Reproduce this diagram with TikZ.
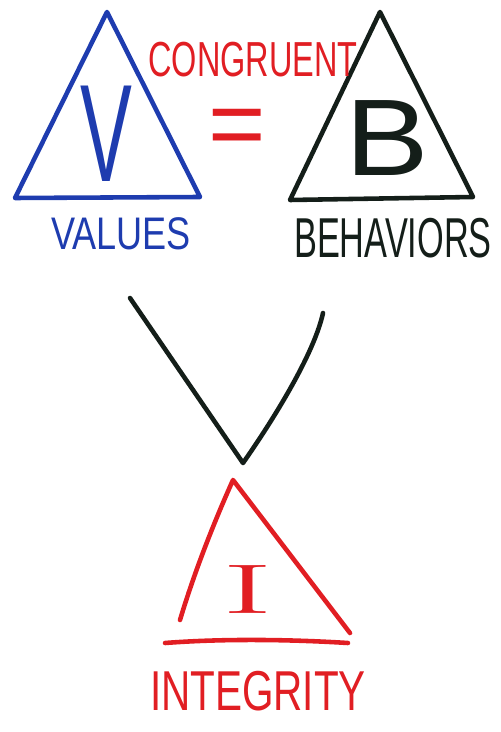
\documentclass[tikz,border=0pt]{standalone}
\usepackage{fontspec}
\newfontfamily\marker{Liberation Sans}
\definecolor{azul}{RGB}{30,60,175}
\definecolor{rojo}{RGB}{225,30,35}
\definecolor{negro}{RGB}{20,30,25}

\begin{document}
\begin{tikzpicture}[x=0.02cm, y=-0.02cm,
    trazo/.style={line width=2.6pt, line cap=round, line join=round},
    letra/.style={inner sep=0pt, anchor=base, transform shape}]

    \useasboundingbox (0,0) rectangle (500,732);

    % Triangulo de valores
    \draw[trazo, azul] (15,198) -- (107,12) -- (200,197) -- cycle;
    \node[letra, azul, xscale=0.56, font=\marker\fontsize{79}{79}\selectfont] (V) at (106,182) {V};
    \node[letra, azul, xscale=0.79, font=\marker\fontsize{26}{26}\selectfont] (values) at (121,250) {VALUES};

    % Triangulo de comportamientos
    \draw[trazo, negro] (290,200) -- (380,12) -- (473,197) -- cycle;
    \node[letra, negro, xscale=1.15, font=\marker\fontsize{62}{62}\selectfont] (B) at (387,176) {B};
    \node[letra, negro, xscale=0.61, font=\marker\fontsize{32}{32}\selectfont] (behaviors) at (393,258) {BEHAVIORS};

    % Congruencia
    \node[letra, rojo, xscale=0.66, font=\marker\fontsize{28}{28}\selectfont] (congruent) at (253,77) {CONGRUENT};
    \node[letra, rojo, anchor=center, font=\marker\fontsize{56}{56}\selectfont] (eq) at (237,133) {=};

    % Union
    \draw[trazo, negro] (130,298) -- (243,463) .. controls (280,410) and (315,350) .. (323,313);

    % Triangulo de integridad
    \draw[trazo, rojo] (180,620) .. controls (195,570) and (215,520) .. (233,480) -- (350,633);
    \draw[trazo, rojo] (165,643) .. controls (230,638) and (300,640) .. (348,643);
    \node[letra, rojo, xscale=2.2, font=\fontsize{40}{40}\selectfont] (I) at (248,613) {I};
    \node[letra, rojo, xscale=0.72, font=\marker\fontsize{32}{32}\selectfont] (integrity) at (258,710) {INTEGRITY};

\end{tikzpicture}
\end{document}
